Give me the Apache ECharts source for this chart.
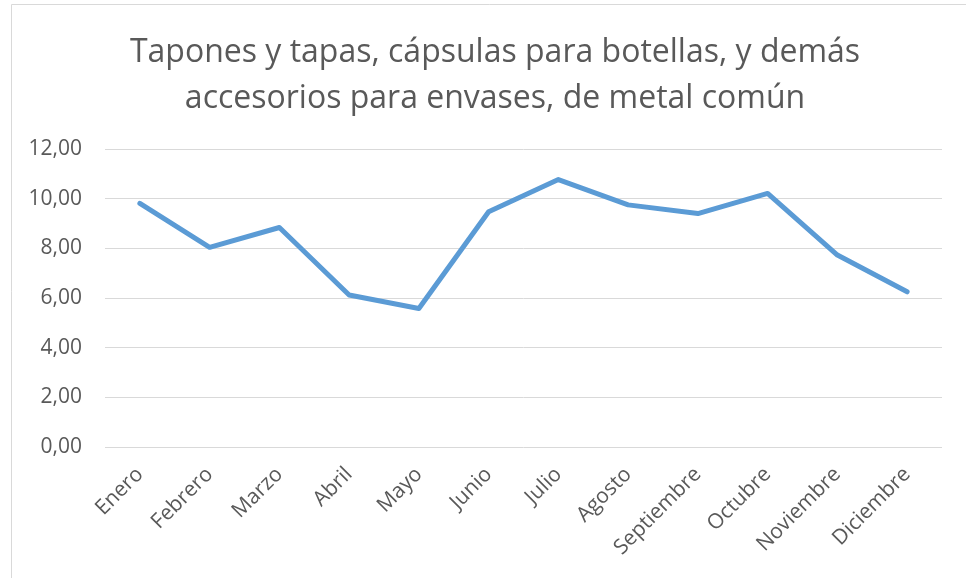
<!DOCTYPE html>
<html>
<head>
<meta charset="utf-8">
<script src="https://cdn.jsdelivr.net/npm/echarts@6/dist/echarts.min.js"></script>
<style>
  html, body { margin: 0; padding: 0; background: #fff; }
  #chart { width: 966px; height: 578px; }
</style>
</head>
<body>
<div id="chart"></div>
<script>
// datos del gráfico
const titleLines = ['Tapones y tapas, cápsulas para botellas, y demás', 'accesorios para envases, de metal común'];
const months = ['Enero', 'Febrero', 'Marzo', 'Abril', 'Mayo', 'Junio', 'Julio', 'Agosto', 'Septiembre', 'Octubre', 'Noviembre', 'Diciembre'];
const values = [9.81, 8.04, 8.84, 6.12, 5.58, 9.47, 10.77, 9.75, 9.40, 10.21, 7.73, 6.25];

const chart = echarts.init(document.getElementById('chart'));

const option = {
    animation: false,
    textStyle: { fontFamily: 'Open Sans' },
    title: {
        text: titleLines.join('\n'),
        left: 490,
        top: 25,
        textAlign: 'center',
        textStyle: { fontSize: 32, fontWeight: 'normal', color: '#595959', lineHeight: 46, fontFamily: 'Open Sans', align: 'center' }
    },
    graphic: [{
        type: 'rect',
        shape: { x: 11.5, y: 4.5, width: 1000, height: 620 },
        style: { fill: 'none', stroke: '#d9d9d9', lineWidth: 1 },
        silent: true
    }],
    grid: { left: 105, right: 24, top: 149, bottom: 131 },
    xAxis: {
        type: 'category',
        data: months,
        boundaryGap: true,
        axisLine: { show: false },
        axisTick: { show: false },
        axisLabel: { rotate: 45, color: '#595959', fontSize: 21, margin: 24, interval: 0 }
    },
    yAxis: {
        type: 'value',
        min: 0,
        max: 12,
        interval: 2,
        axisLine: { show: false },
        axisTick: { show: false },
        splitLine: { lineStyle: { color: '#d9d9d9', width: 1 } },
        axisLabel: {
            color: '#595959',
            fontSize: 21,
            margin: 23,
            formatter: v => v.toFixed(2).replace('.', ',')
        }
    },
    series: [{
        type: 'line',
        data: values,
        showSymbol: false,
        lineStyle: { color: '#5b9bd5', width: 5, cap: 'round', join: 'round' },
        itemStyle: { color: '#5b9bd5' }
    }]
};

chart.setOption(option);
</script>
</body>
</html>
